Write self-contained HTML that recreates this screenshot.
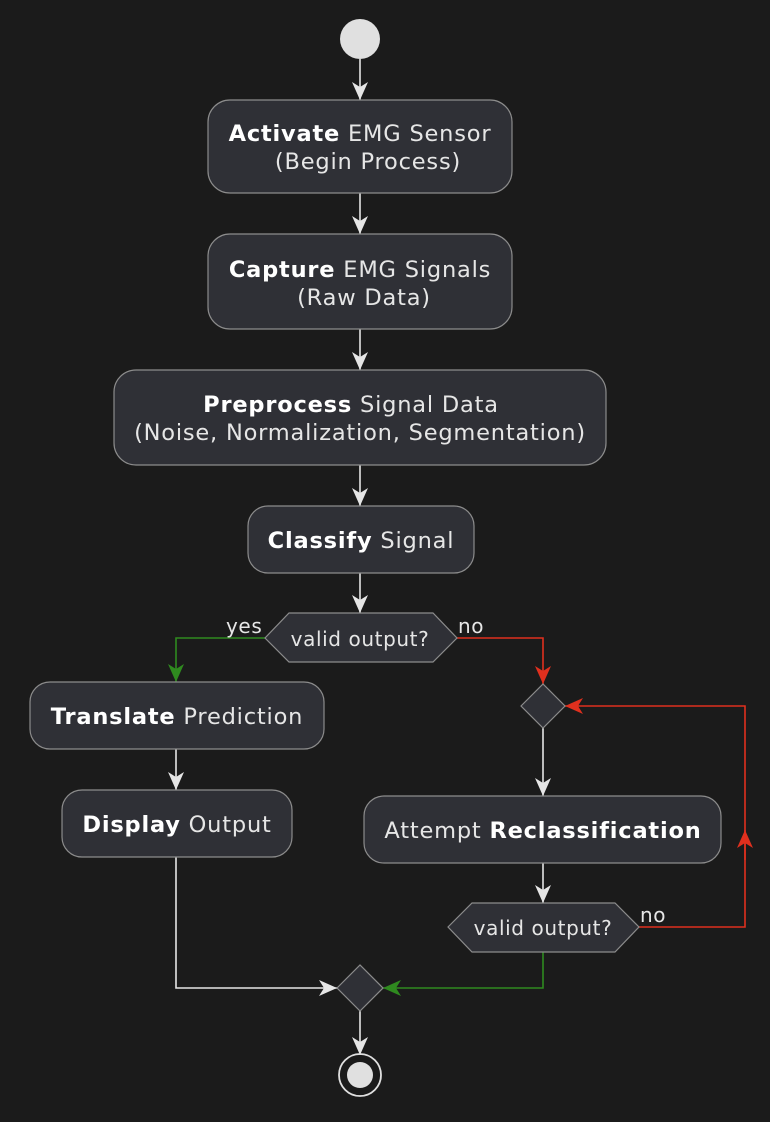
<!DOCTYPE html>
<html><head><meta charset="utf-8"><style>
html,body{margin:0;padding:0;background:#1b1b1b;}
svg{display:block;}
text{font-family:"DejaVu Sans","Liberation Sans",sans-serif;font-size:22.5px;letter-spacing:0.8px;fill:#e6e6e6;}
.b{font-weight:bold;fill:#fff;}
.s{font-size:20px;letter-spacing:0.6px;}
.box{fill:#2f3036;stroke:#8c8c8c;stroke-width:1.2;}
</style></head><body>
<svg width="770" height="1122" viewBox="0 0 770 1122" xmlns="http://www.w3.org/2000/svg">
<defs>
<marker id="aw" viewBox="0 0 20 20" refX="18" refY="10" markerWidth="20" markerHeight="20" markerUnits="userSpaceOnUse" orient="auto"><path d="M0,2 L18,10 L0,18 L5,10 Z" fill="#e6e6e6"/></marker>
<marker id="ag" viewBox="0 0 20 20" refX="18" refY="10" markerWidth="20" markerHeight="20" markerUnits="userSpaceOnUse" orient="auto"><path d="M0,2 L18,10 L0,18 L5,10 Z" fill="#2f8a1f"/></marker>
<marker id="ar" viewBox="0 0 20 20" refX="18" refY="10" markerWidth="20" markerHeight="20" markerUnits="userSpaceOnUse" orient="auto"><path d="M0,2 L18,10 L0,18 L5,10 Z" fill="#e0301e"/></marker>
</defs>
<g stroke="#e6e6e6" stroke-width="1.6" fill="none">
<line x1="360" y1="59" x2="360" y2="100" marker-end="url(#aw)"/>
<line x1="360" y1="193" x2="360" y2="234" marker-end="url(#aw)"/>
<line x1="360" y1="329" x2="360" y2="370" marker-end="url(#aw)"/>
<line x1="360" y1="465" x2="360" y2="506" marker-end="url(#aw)"/>
<line x1="360" y1="573" x2="360" y2="613" marker-end="url(#aw)"/>
<line x1="176" y1="749" x2="176" y2="790" marker-end="url(#aw)"/>
<polyline points="176,857 176,988 337,988" marker-end="url(#aw)"/>
<line x1="543" y1="728" x2="543" y2="796" marker-end="url(#aw)"/>
<line x1="543" y1="863" x2="543" y2="903" marker-end="url(#aw)"/>
<line x1="360" y1="1011" x2="360" y2="1055" marker-end="url(#aw)"/>
</g>
<g stroke="#2f8a1f" stroke-width="1.6" fill="none">
<polyline points="265,638 176,638 176,682" marker-end="url(#ag)"/>
<polyline points="543,952 543,988 383,988" marker-end="url(#ag)"/>
</g>
<g stroke="#e0301e" stroke-width="1.6" fill="none">
<polyline points="457,638 543,638 543,684" marker-end="url(#ar)"/>
<polyline points="639,927 745,927 745,706 565,706" marker-end="url(#ar)"/>
<line x1="745" y1="860" x2="745" y2="830" marker-end="url(#ar)"/>
</g>
<circle cx="360" cy="39" r="20" fill="#e0e0e0"/>
<rect class="box" x="208" y="100" width="304" height="93" rx="22"/>
<text x="360" y="141" text-anchor="middle"><tspan class="b">Activate</tspan> EMG Sensor</text>
<text x="368" y="169" text-anchor="middle">(Begin Process)</text>
<rect class="box" x="208" y="234" width="304" height="95" rx="22"/>
<text x="360" y="277" text-anchor="middle"><tspan class="b">Capture</tspan> EMG Signals</text>
<text x="364" y="305" text-anchor="middle">(Raw Data)</text>
<rect class="box" x="114" y="370" width="492" height="95" rx="22"/>
<text x="351" y="412" text-anchor="middle"><tspan class="b">Preprocess</tspan> Signal Data</text>
<text x="360" y="440" text-anchor="middle">(Noise, Normalization, Segmentation)</text>
<rect class="box" x="248" y="506" width="226" height="67" rx="20"/>
<text x="361" y="548" text-anchor="middle"><tspan class="b">Classify</tspan> Signal</text>
<polygon class="box" points="265,638 289,613 433,613 457,638 433,662 289,662"/>
<text class="s" x="360" y="646" text-anchor="middle">valid output?</text>
<text class="s" x="226" y="633">yes</text>
<text class="s" x="458" y="633">no</text>
<rect class="box" x="30" y="682" width="294" height="67" rx="20"/>
<text x="177" y="724" text-anchor="middle"><tspan class="b">Translate</tspan> Prediction</text>
<rect class="box" x="62" y="790" width="230" height="67" rx="20"/>
<text x="177" y="832" text-anchor="middle"><tspan class="b">Display</tspan> Output</text>
<polygon class="box" points="521,706 543,684 565,706 543,728"/>
<rect class="box" x="364" y="796" width="357" height="67" rx="20"/>
<text x="543" y="838" text-anchor="middle">Attempt <tspan class="b">Reclassification</tspan></text>
<polygon class="box" points="448,927 472,903 615,903 639,927 615,952 472,952"/>
<text class="s" x="543" y="935" text-anchor="middle">valid output?</text>
<text class="s" x="640" y="922">no</text>
<polygon class="box" points="337,988 360,965 383,988 360,1011"/>
<circle cx="360" cy="1075" r="21" fill="none" stroke="#e0e0e0" stroke-width="1.8"/>
<circle cx="360" cy="1075" r="13" fill="#e0e0e0"/>
</svg>
</body></html>
